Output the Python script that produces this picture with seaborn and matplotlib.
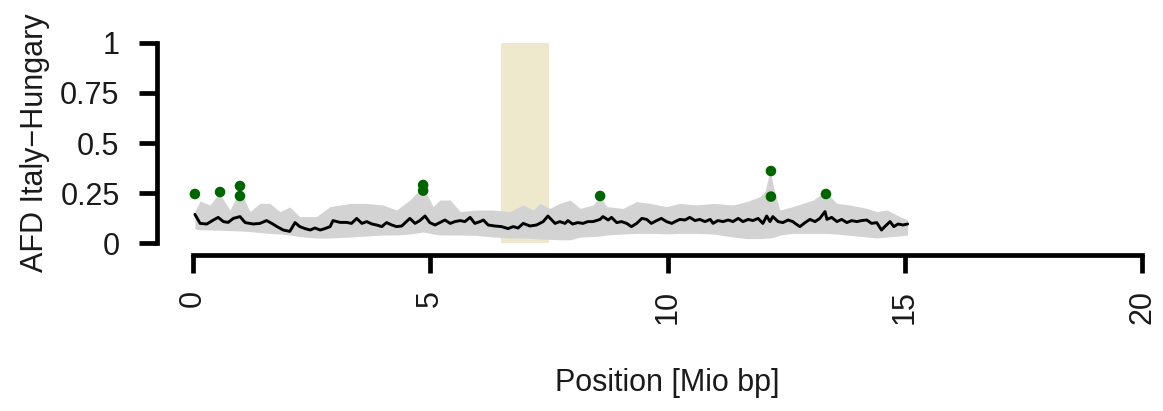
import numpy as np
import pandas as pd
import matplotlib
matplotlib.use("Agg")
import matplotlib.pyplot as plt
import seaborn as sns

# ---------------- data ----------------
line_pos = [0.04, 0.15, 0.29, 0.43, 0.53, 0.64, 0.74, 0.85, 0.99, 1.10, 1.27, 1.41, 1.55, 1.66,
            1.77, 1.90, 2.04, 2.15, 2.25, 2.36, 2.47, 2.57, 2.68, 2.78, 2.89, 2.95, 3.10, 3.24,
            3.34, 3.45, 3.56, 3.66, 3.77, 3.87, 3.98, 4.08, 4.19, 4.29, 4.40, 4.50, 4.57, 4.68,
            4.78, 4.89, 4.99, 5.10, 5.20, 5.31, 5.42, 5.52, 5.63, 5.73, 5.84, 5.94, 6.05, 6.12,
            6.22, 6.36, 6.50, 6.64, 6.75, 6.85, 6.96, 7.10, 7.24, 7.38, 7.48, 7.56, 7.63, 7.73,
            7.84, 7.90, 8.00, 8.11, 8.22, 8.32, 8.43, 8.58, 8.64, 8.75, 8.82, 8.93, 9.03, 9.14,
            9.24, 9.35, 9.46, 9.56, 9.66, 9.77, 9.87, 9.98, 10.09, 10.16, 10.26, 10.37, 10.47,
            10.58, 10.68, 10.79, 10.90, 10.96, 11.06, 11.17, 11.28, 11.38, 11.49, 11.59, 11.70,
            11.80, 11.91, 12.01, 12.09, 12.16, 12.22, 12.33, 12.43, 12.54, 12.64, 12.69, 12.79,
            12.90, 13.00, 13.11, 13.21, 13.32, 13.36, 13.46, 13.57, 13.67, 13.78, 13.88, 13.99,
            14.09, 14.20, 14.30, 14.41, 14.51, 14.58, 14.69, 14.77, 14.86, 14.96, 15.06]
line_afd = [0.143, 0.098, 0.095, 0.115, 0.128, 0.107, 0.103, 0.123, 0.132, 0.102, 0.095, 0.098,
            0.112, 0.098, 0.082, 0.065, 0.058, 0.102, 0.082, 0.072, 0.065, 0.075, 0.065, 0.072,
            0.082, 0.112, 0.103, 0.103, 0.098, 0.123, 0.098, 0.107, 0.095, 0.090, 0.082, 0.102,
            0.090, 0.082, 0.085, 0.107, 0.123, 0.098, 0.112, 0.135, 0.102, 0.090, 0.102, 0.115,
            0.098, 0.107, 0.112, 0.107, 0.128, 0.098, 0.107, 0.115, 0.090, 0.085, 0.082, 0.072,
            0.082, 0.075, 0.098, 0.085, 0.090, 0.107, 0.135, 0.115, 0.098, 0.107, 0.098, 0.112,
            0.095, 0.102, 0.098, 0.107, 0.107, 0.118, 0.132, 0.115, 0.128, 0.102, 0.107, 0.098,
            0.082, 0.098, 0.123, 0.118, 0.098, 0.112, 0.123, 0.107, 0.098, 0.107, 0.118, 0.115,
            0.128, 0.112, 0.118, 0.107, 0.118, 0.098, 0.112, 0.107, 0.115, 0.107, 0.123, 0.107,
            0.118, 0.112, 0.123, 0.098, 0.135, 0.107, 0.132, 0.107, 0.102, 0.115, 0.107, 0.098,
            0.082, 0.102, 0.118, 0.107, 0.123, 0.157, 0.118, 0.128, 0.107, 0.118, 0.102, 0.112,
            0.107, 0.112, 0.115, 0.098, 0.102, 0.065, 0.082, 0.107, 0.082, 0.095, 0.090, 0.095]

band_pos = [0.04, 0.15, 0.36, 0.55, 0.78, 0.99, 1.20, 1.41, 1.62, 1.83, 2.04, 2.25, 2.60, 2.89,
            3.31, 3.66, 4.00, 4.29, 4.57, 4.85, 5.06, 5.20, 5.42, 5.63, 5.98, 6.32, 6.68, 6.96,
            7.17, 7.31, 7.52, 7.73, 7.95, 8.16, 8.43, 8.58, 8.72, 9.06, 9.35, 9.63, 9.98, 10.26,
            10.60, 10.96, 11.38, 11.67, 11.95, 12.06, 12.16, 12.26, 12.37, 12.64, 13.07, 13.32,
            13.57, 13.85, 14.20, 14.41, 14.62, 14.90, 15.06]
band_upper = [0.16, 0.21, 0.19, 0.25, 0.165, 0.265, 0.157, 0.198, 0.198, 0.157, 0.18, 0.132,
              0.132, 0.182, 0.198, 0.198, 0.19, 0.165, 0.215, 0.282, 0.182, 0.215, 0.215, 0.157,
              0.165, 0.165, 0.157, 0.19, 0.165, 0.198, 0.173, 0.198, 0.215, 0.173, 0.19, 0.232,
              0.182, 0.173, 0.207, 0.198, 0.182, 0.198, 0.19, 0.198, 0.19, 0.207, 0.232, 0.26,
              0.365, 0.25, 0.165, 0.182, 0.215, 0.257, 0.198, 0.19, 0.173, 0.157, 0.165, 0.132,
              0.115]
band_lower = [0.07, 0.066, 0.065, 0.064, 0.062, 0.06, 0.057, 0.052, 0.048, 0.045, 0.04, 0.032,
              0.025, 0.025, 0.03, 0.035, 0.04, 0.04, 0.045, 0.055, 0.045, 0.04, 0.04, 0.04,
              0.038, 0.03, 0.025, 0.025, 0.022, 0.02, 0.018, 0.016, 0.016, 0.03, 0.032, 0.035,
              0.04, 0.045, 0.048, 0.048, 0.046, 0.048, 0.048, 0.045, 0.03, 0.022, 0.022, 0.024,
              0.025, 0.03, 0.04, 0.048, 0.048, 0.048, 0.045, 0.038, 0.03, 0.025, 0.03, 0.035,
              0.04]

outlier_pos = [0.04, 0.57, 0.99, 0.99, 4.85, 4.85, 8.58, 12.18, 12.18, 13.34]
outlier_afd = [0.245, 0.255, 0.285, 0.235, 0.29, 0.262, 0.235, 0.36, 0.232, 0.245]

region_start, region_end = 6.5, 7.5

x_ticks = [0, 5, 10, 15, 20]
x_ticklabels = ["0", "5", "10", "15", "20"]
y_ticks = [0, 0.25, 0.5, 0.75, 1]
y_ticklabels = ["0", "0.25", "0.5", "0.75", "1"]

# ---------------- plot ----------------
sns.set_theme(style="white")
plt.rcParams["font.family"] = ["Liberation Sans", "DejaVu Sans"]

W, H = 1163, 411
fig = plt.figure(figsize=(W / 100, H / 100), dpi=100)
ax = fig.add_axes([157 / W, (H - 255) / H, (1161 - 157) / W, (255 - 40) / H])

ax.fill_betweenx([0, 1], region_start, region_end, color="#EEE8CD", lw=0, zorder=1)
ax.fill_between(band_pos, band_lower, band_upper, color="#D3D3D3", lw=0, zorder=2)

line_df = pd.DataFrame({"pos": line_pos, "afd": line_afd})
sns.lineplot(data=line_df, x="pos", y="afd", ax=ax, color="black", lw=2.1,
             estimator=None, sort=False, zorder=3)
pts_df = pd.DataFrame({"pos": outlier_pos, "afd": outlier_afd})
sns.scatterplot(data=pts_df, x="pos", y="afd", ax=ax, color="#006400", s=58,
                edgecolor="none", zorder=4)

ax.set_xlim(-(193 - 157) / 47.45, (1161 - 193) / 47.45)
ax.set_ylim(-0.06, 1.015)

for s in ["top", "right"]:
    ax.spines[s].set_visible(False)
ax.spines["left"].set_bounds(0, 1)
ax.spines["bottom"].set_bounds(0, 20)
for s in ["left", "bottom"]:
    ax.spines[s].set_linewidth(3.4)
    ax.spines[s].set_color("black")
    ax.spines[s].set_capstyle("projecting")

ax.set_xticks(x_ticks)
ax.set_xticklabels(x_ticklabels, rotation=90, va="top")
ax.set_yticks(y_ticks)
ax.set_yticklabels(y_ticklabels)
ax.tick_params(axis="both", direction="out", length=13, width=3.4, color="black",
               labelsize=22, labelcolor="#1a1a1a", left=True, bottom=True)
ax.tick_params(axis="y", pad=14)
ax.tick_params(axis="x", pad=12)

ax.set_xlabel("Position [Mio bp]", fontsize=22, color="#1a1a1a")
ax.set_ylabel("AFD Italy\u2212Hungary", fontsize=22, color="#1a1a1a")
ax.xaxis.set_label_coords((667.5 - 157) / 1004, (255 - 383) / 215)
ax.xaxis.label.set_va("center")
ax.yaxis.set_label_coords((35 - 157) / 1004, (255 - 143) / 215)
ax.yaxis.label.set_va("center")
ax.grid(False)

fig.savefig("out.png", dpi=100)
